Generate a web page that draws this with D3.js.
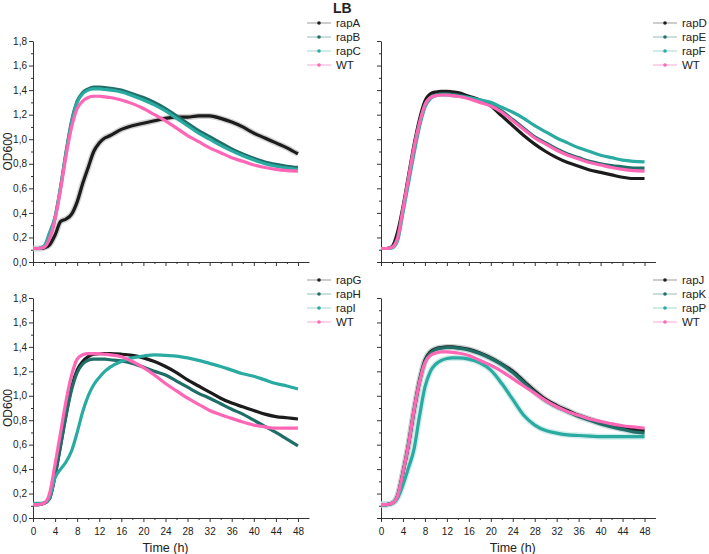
<!DOCTYPE html>
<html><head><meta charset="utf-8">
<script src="https://cdn.jsdelivr.net/npm/d3@7"></script>
<style>
html,body{margin:0;padding:0;background:#fff;}
svg text{font-family:"Liberation Sans",Arial,sans-serif;fill:#222;}
</style></head>
<body>
<svg id="c" width="709" height="554"></svg>
<script>
// ---- data (time in hours, OD600) ----
const hours = [0,1,2,3,4,5,6,7,8,9,10,11,12,13,14,16,18,20,22,24,26,28,30,32,34,36,38,40,42,44,46,48];

// panel 1
const rapA = [0.11,0.11,0.115,0.14,0.22,0.33,0.35,0.39,0.49,0.64,0.77,0.90,0.97,1.01,1.03,1.08,1.11,1.13,1.15,1.17,1.18,1.18,1.19,1.19,1.17,1.14,1.10,1.05,1.01,0.97,0.93,0.88];
const rapB = [0.11,0.11,0.12,0.20,0.36,0.61,0.90,1.15,1.31,1.38,1.41,1.425,1.425,1.42,1.415,1.40,1.37,1.34,1.30,1.25,1.19,1.13,1.07,1.02,0.97,0.92,0.88,0.845,0.815,0.795,0.78,0.77];
const rapC = [0.11,0.11,0.13,0.24,0.37,0.61,0.89,1.14,1.30,1.37,1.40,1.41,1.41,1.405,1.40,1.385,1.355,1.32,1.28,1.23,1.17,1.11,1.05,1.00,0.95,0.905,0.865,0.83,0.80,0.78,0.765,0.755];
const wt1  = [0.11,0.11,0.12,0.19,0.35,0.59,0.87,1.10,1.25,1.31,1.34,1.35,1.35,1.345,1.34,1.32,1.29,1.25,1.20,1.15,1.09,1.03,0.98,0.93,0.89,0.85,0.82,0.79,0.77,0.755,0.745,0.74];
// panel 2
const rapD = [0.11,0.11,0.125,0.24,0.45,0.70,0.95,1.16,1.31,1.37,1.385,1.39,1.39,1.385,1.38,1.35,1.32,1.27,1.19,1.11,1.03,0.96,0.90,0.85,0.81,0.78,0.75,0.73,0.71,0.69,0.68,0.68];
const rapE = [0.11,0.11,0.12,0.20,0.43,0.68,0.93,1.13,1.28,1.34,1.36,1.37,1.37,1.365,1.36,1.34,1.31,1.28,1.23,1.16,1.09,1.02,0.97,0.92,0.88,0.85,0.82,0.80,0.785,0.775,0.765,0.765];
const rapF = [0.11,0.11,0.115,0.17,0.40,0.64,0.88,1.10,1.26,1.33,1.355,1.36,1.36,1.355,1.35,1.34,1.32,1.30,1.26,1.22,1.17,1.11,1.06,1.01,0.97,0.93,0.90,0.87,0.85,0.83,0.82,0.815];
const wt2  = [0.11,0.11,0.12,0.19,0.43,0.68,0.93,1.13,1.28,1.34,1.355,1.36,1.36,1.355,1.35,1.33,1.30,1.27,1.22,1.15,1.08,1.01,0.96,0.91,0.87,0.84,0.81,0.79,0.77,0.755,0.745,0.74];
// panel 3
const rapG = [0.11,0.11,0.12,0.16,0.35,0.60,0.85,1.07,1.21,1.28,1.32,1.34,1.345,1.345,1.345,1.34,1.33,1.31,1.28,1.24,1.19,1.13,1.08,1.03,0.98,0.94,0.91,0.88,0.85,0.83,0.82,0.81];
const rapH = [0.11,0.11,0.12,0.16,0.35,0.59,0.84,1.05,1.19,1.26,1.29,1.30,1.30,1.30,1.295,1.285,1.265,1.235,1.20,1.17,1.12,1.07,1.02,0.98,0.935,0.89,0.85,0.80,0.75,0.70,0.645,0.59];
const rapI = [0.12,0.12,0.125,0.17,0.33,0.40,0.46,0.55,0.70,0.87,1.00,1.09,1.15,1.20,1.235,1.28,1.31,1.325,1.335,1.33,1.325,1.31,1.29,1.265,1.24,1.21,1.18,1.16,1.13,1.10,1.08,1.055];
const wt3  = [0.11,0.11,0.12,0.20,0.44,0.70,0.96,1.17,1.30,1.335,1.345,1.345,1.345,1.34,1.335,1.32,1.28,1.23,1.17,1.10,1.04,0.98,0.93,0.88,0.845,0.815,0.785,0.76,0.745,0.735,0.735,0.735];
// panel 4
const rapJ = [0.11,0.11,0.12,0.18,0.37,0.60,0.88,1.12,1.29,1.36,1.385,1.395,1.40,1.40,1.395,1.38,1.35,1.31,1.26,1.20,1.12,1.04,0.97,0.92,0.88,0.84,0.81,0.78,0.76,0.74,0.725,0.715];
const rapK = [0.11,0.11,0.12,0.18,0.37,0.60,0.87,1.11,1.28,1.35,1.38,1.39,1.395,1.395,1.39,1.375,1.345,1.305,1.255,1.19,1.11,1.03,0.96,0.91,0.87,0.83,0.80,0.77,0.745,0.725,0.705,0.695];
const rapP = [0.11,0.11,0.12,0.16,0.27,0.41,0.56,0.83,1.07,1.20,1.26,1.29,1.305,1.31,1.31,1.30,1.27,1.21,1.10,0.97,0.84,0.76,0.715,0.695,0.68,0.675,0.67,0.665,0.665,0.665,0.665,0.665];
const wt4  = [0.11,0.11,0.12,0.18,0.37,0.60,0.88,1.11,1.27,1.33,1.35,1.36,1.36,1.355,1.35,1.33,1.29,1.25,1.20,1.14,1.08,1.02,0.96,0.91,0.87,0.84,0.81,0.79,0.77,0.755,0.745,0.735];

const xTicks = [0,4,8,12,16,20,24,28,32,36,40,44,48];
const yTicks = [0,0.2,0.4,0.6,0.8,1.0,1.2,1.4,1.6,1.8];
const xLabel = "Time (h)";
const yLabel = "OD600";
const title = "LB";

// ---- styles ----
const colBlack = "#1c1c1c", colDark = "#1f6e67", colTeal = "#2aaba1", colPink = "#ff66b5";
const halo = {"#1c1c1c":"#bdbdbd","#1f6e67":"#b9d3d0","#2aaba1":"#bfe6e2","#ff66b5":"#ffc6e3"};

const panels = [
  {x:[33,309], y:[262,41], showX:false, showY:true, legendX:307, legendY:23,
   series:[{n:"rapA",v:rapA,c:colBlack,err:true},{n:"rapB",v:rapB,c:colDark},{n:"rapC",v:rapC,c:colTeal},{n:"WT",v:wt1,c:colPink}]},
  {x:[381,655.5], y:[262,41], showX:false, showY:false, legendX:653, legendY:23,
   series:[{n:"rapD",v:rapD,c:colBlack},{n:"rapE",v:rapE,c:colDark},{n:"rapF",v:rapF,c:colTeal},{n:"WT",v:wt2,c:colPink}]},
  {x:[33,309], y:[518,298], showX:true, showY:true, legendX:307, legendY:280,
   series:[{n:"rapG",v:rapG,c:colBlack},{n:"rapH",v:rapH,c:colDark},{n:"rapI",v:rapI,c:colTeal},{n:"WT",v:wt3,c:colPink}]},
  {x:[381,655.5], y:[518,298], showX:true, showY:false, legendX:653, legendY:280,
   series:[{n:"rapJ",v:rapJ,c:colBlack,err:true},{n:"rapK",v:rapK,c:colDark,err:true},{n:"rapP",v:rapP,c:colTeal,err:true},{n:"WT",v:wt4,c:colPink}]}
];

const svg = d3.select("#c");
const fmt = d => d3.format(".1f")(d).replace(".", ",");

panels.forEach(p => {
  const x = d3.scaleLinear().domain([0,50]).range(p.x);
  const y = d3.scaleLinear().domain([0,1.8]).range(p.y);
  const g = svg.append("g");

  // x axis
  const xMinor = d3.range(0,50,2);
  const xa = g.append("g").attr("transform",`translate(0,${p.y[0]})`)
    .call(d3.axisBottom(x).tickValues(xTicks).tickSize(4).tickSizeOuter(0)
      .tickFormat(p.showX ? d3.format("d") : ""));
  xa.append("g").call(d3.axisBottom(x).tickValues(xMinor.filter(v=>v%4!==0)).tickSize(2).tickFormat(""))
    .select(".domain").remove();
  // y axis
  const ya = g.append("g").attr("transform",`translate(${p.x[0]},0)`)
    .call(d3.axisLeft(y).tickValues(yTicks).tickSize(4).tickSizeOuter(0)
      .tickFormat(p.showY ? fmt : ""));
  ya.append("g").call(d3.axisLeft(y).tickValues([0.1,0.3,0.5,0.7,0.9,1.1,1.3,1.5,1.7]).tickSize(2).tickFormat(""))
    .select(".domain").remove();
  g.selectAll(".domain").attr("stroke","#333").attr("stroke-width",1);
  g.selectAll(".tick line").attr("stroke","#333");
  g.selectAll(".tick text").attr("font-size",10).attr("fill","#222")
    .style("font-family","'Liberation Sans',Arial,sans-serif");
  xa.selectAll(".tick text").attr("dy","0.95em");
  ya.selectAll(".tick text").attr("x",-6);

  const line = d3.line().x((d,i)=>x(hours[i])).y(d=>y(d)).curve(d3.curveMonotoneX);

  p.series.forEach(s => {
    if (s.err) {
      g.append("path").attr("d", line(s.v)).attr("fill","none")
        .attr("stroke", halo[s.c]).attr("stroke-width",6).attr("opacity",0.7);
    }
  });
  p.series.forEach(s => {
    g.append("path").attr("d", line(s.v)).attr("fill","none")
      .attr("stroke", s.c).attr("stroke-width",3.2).attr("stroke-linejoin","round");
  });

  // legend
  const lg = svg.append("g");
  p.series.forEach((s,i) => {
    const yy = p.legendY + i*14;
    lg.append("line").attr("x1",p.legendX).attr("x2",p.legendX+24).attr("y1",yy).attr("y2",yy)
      .attr("stroke",halo[s.c]).attr("stroke-width",1.5);
    lg.append("circle").attr("cx",p.legendX+12).attr("cy",yy).attr("r",1.8).attr("fill",s.c);
    lg.append("text").attr("x",p.legendX+29).attr("y",yy).attr("dy","0.35em")
      .attr("font-size",11.5).text(s.n);
  });

  if (p.showY) {
    svg.append("text").attr("transform",`translate(8,${(p.y[0]+p.y[1])/2}) rotate(-90)`)
      .attr("text-anchor","middle").attr("dy","0.35em").attr("font-size",12).text(yLabel);
  }
  if (p.showX) {
    svg.append("text").attr("x",(x(0)+x(48))/2).attr("y",552)
      .attr("text-anchor","middle").attr("font-size",12.5).text(xLabel);
  }
});

svg.append("text").attr("x",333).attr("y",13).attr("font-size",14).attr("font-weight","bold").text(title);
</script>
</body></html>
